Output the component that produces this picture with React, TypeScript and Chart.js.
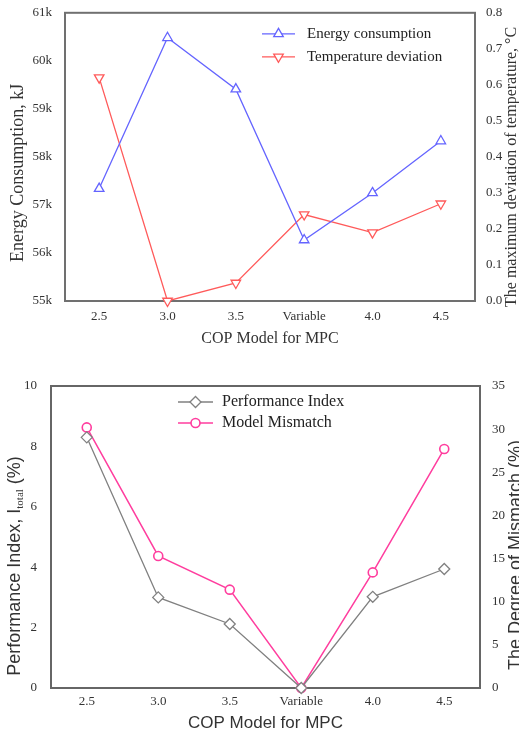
import { useEffect, useRef } from "react";
import { Chart, registerables } from "chart.js";
import { drawPoint } from "chart.js/helpers";

Chart.register(...registerables);

// ---------- data ----------
const categories = ["2.5", "3.0", "3.5", "Variable", "4.0", "4.5"];

const energyLabel = "Energy consumption";
const energyConsumption = [57340, 60480, 59410, 56270, 57250, 58330];
const deviationLabel = "Temperature deviation";
const temperatureDeviation = [0.62, 0.0, 0.05, 0.24, 0.19, 0.27];

const performanceLabel = "Performance Index";
const performanceIndex = [8.3, 3.0, 2.12, 0, 3.02, 3.94];
const mismatchLabel = "Model Mismatch";
const modelMismatch = [30.2, 15.3, 11.4, 0, 13.4, 27.7];

const energyRange = [55000, 61000, 1000];
const deviationRange = [0, 0.8, 0.1];
const indexRange = [0, 10, 2];
const mismatchRange = [0, 35, 5];

// ---------- styling ----------
const SERIF = "'Liberation Serif', 'Times New Roman', serif";
const SANS = "'Liberation Sans', Arial, sans-serif";
const W = 519;
const TOP_H = 360;
const BOTTOM_H = 375;

type Seg = { text: string; size: number; family: string; shift?: number };
type TitleSpec = { segs: Seg[]; x: (a: any) => number; y: (a: any) => number; rot: number; color: string };
type LegendSpec = { x0: number; lineLen: number; textGap: number; y0: number; step: number; size: number; family: string };

function drawRich(ctx: CanvasRenderingContext2D, t: TitleSpec, area: any) {
  ctx.save();
  let total = 0;
  const widths = t.segs.map((s) => {
    ctx.font = `${s.size}px ${s.family}`;
    const w = ctx.measureText(s.text).width;
    total += w;
    return w;
  });
  ctx.translate(t.x(area), t.y(area));
  ctx.rotate(t.rot);
  ctx.fillStyle = t.color;
  ctx.textBaseline = "middle";
  ctx.textAlign = "left";
  let x = -total / 2;
  t.segs.forEach((s, i) => {
    ctx.font = `${s.size}px ${s.family}`;
    ctx.fillText(s.text, x, s.shift || 0);
    x += widths[i];
  });
  ctx.restore();
}

function decorPlugin(titles: TitleSpec[], legend: LegendSpec, frameColor: string) {
  return {
    id: "decor",
    beforeDatasetsDraw(chart: any) {
      const { ctx, chartArea: a } = chart;
      ctx.save();
      ctx.strokeStyle = frameColor;
      ctx.lineWidth = 2;
      ctx.strokeRect(a.left, a.top, a.right - a.left, a.bottom - a.top);
      ctx.restore();
    },
    afterDraw(chart: any) {
      const { ctx, chartArea: a } = chart;
      titles.forEach((t) => drawRich(ctx, t, a));
      chart.data.datasets.forEach((ds: any, i: number) => {
        const y = a.top + legend.y0 + i * legend.step;
        const x1 = a.left + legend.x0;
        ctx.save();
        ctx.strokeStyle = ds.borderColor;
        ctx.lineWidth = ds.borderWidth;
        ctx.beginPath();
        ctx.moveTo(x1, y);
        ctx.lineTo(x1 + legend.lineLen, y);
        ctx.stroke();
        ctx.fillStyle = ds.pointBackgroundColor;
        ctx.strokeStyle = ds.pointBorderColor;
        ctx.lineWidth = ds.pointBorderWidth;
        drawPoint(ctx, {
          pointStyle: ds.pointStyle,
          radius: ds.pointRadius,
          rotation: ds.pointRotation || 0,
          borderWidth: ds.pointBorderWidth,
        } as any, x1 + legend.lineLen / 2, y);
        ctx.fillStyle = "#222";
        ctx.font = `${legend.size}px ${legend.family}`;
        ctx.textBaseline = "middle";
        ctx.textAlign = "left";
        ctx.fillText(ds.label, x1 + legend.lineLen + legend.textGap, y);
        ctx.restore();
      });
    },
  };
}

function fixedWidth(w: number) {
  return (s: any) => {
    s.width = w;
  };
}
function fixedHeight(h: number) {
  return (s: any) => {
    s.height = h;
  };
}

function TopChart() {
  const ref = useRef<HTMLCanvasElement>(null);
  useEffect(() => {
    const titles: TitleSpec[] = [
      { segs: [{ text: "COP Model for MPC", size: 16, family: SERIF }], x: (a) => (a.left + a.right) / 2, y: (a) => a.bottom + 38, rot: 0, color: "#333" },
      { segs: [{ text: "Energy Consumption, kJ", size: 18, family: SERIF }], x: (a) => a.left - 47, y: (a) => (a.top + a.bottom) / 2 + 16, rot: -Math.PI / 2, color: "#333" },
      { segs: [{ text: "The maximum deviation of temperature, °C", size: 16, family: SERIF }], x: (a) => a.right + 37, y: (a) => (a.top + a.bottom) / 2 + 10, rot: -Math.PI / 2, color: "#333" },
    ];
    const legend: LegendSpec = { x0: 197, lineLen: 33, textGap: 12, y0: 21, step: 23, size: 15, family: SERIF };
    const chart = new Chart(ref.current!, {
      type: "line",
      data: {
        labels: categories,
        datasets: [
          {
            label: energyLabel,
            data: energyConsumption,
            yAxisID: "yE",
            borderColor: "#6464ff",
            borderWidth: 1.3,
            pointStyle: "triangle",
            pointRadius: 5.5,
            pointBackgroundColor: "#ffffff",
            pointBorderColor: "#6464ff",
            pointBorderWidth: 1.3,
            clip: false,
          } as any,
          {
            label: deviationLabel,
            data: temperatureDeviation,
            yAxisID: "yT",
            borderColor: "#ff5a5a",
            borderWidth: 1.3,
            pointStyle: "triangle",
            pointRotation: 180,
            pointRadius: 5.5,
            pointBackgroundColor: "#ffffff",
            pointBorderColor: "#ff5a5a",
            pointBorderWidth: 1.3,
            clip: false,
          } as any,
        ],
      },
      options: {
        animation: false,
        responsive: false,
        layout: { padding: { top: 12, left: 0, right: 0, bottom: 0 } },
        plugins: { legend: { display: false }, tooltip: { enabled: false } },
        scales: {
          x: {
            offset: true,
            afterFit: fixedHeight(59),
            grid: { display: false },
            border: { display: false },
            ticks: { padding: 0, color: "#333", font: { family: SERIF, size: 13 } },
          },
          yE: {
            position: "left",
            min: energyRange[0],
            max: energyRange[1],
            afterFit: fixedWidth(65),
            grid: { display: false },
            border: { display: false },
            ticks: {
              stepSize: energyRange[2],
              padding: 5,
              color: "#333",
              font: { family: SERIF, size: 13 },
              callback: (v: any) => `${Math.round(Number(v) / 1000)}k`,
            },
          },
          yT: {
            position: "right",
            min: deviationRange[0],
            max: deviationRange[1],
            afterFit: fixedWidth(44),
            grid: { display: false },
            border: { display: false },
            ticks: {
              stepSize: deviationRange[2],
              padding: 3,
              color: "#333",
              font: { family: SERIF, size: 13 },
              callback: (v: any) => Number(v).toFixed(1),
            },
          },
        },
      } as any,
      plugins: [decorPlugin(titles, legend, "#707070")],
    });
    return () => chart.destroy();
  }, []);
  return <canvas ref={ref} width={W} height={TOP_H} style={{ display: "block", width: W, height: TOP_H }} />;
}

function BottomChart() {
  const ref = useRef<HTMLCanvasElement>(null);
  useEffect(() => {
    const titles: TitleSpec[] = [
      { segs: [{ text: "COP Model for MPC", size: 17, family: SANS }], x: (a) => (a.left + a.right) / 2, y: (a) => a.bottom + 35, rot: 0, color: "#333" },
      {
        segs: [
          { text: "Performance Index, I", size: 18, family: SANS },
          { text: "total", size: 11, family: SERIF, shift: 5 },
          { text: " (%)", size: 18, family: SANS },
        ],
        x: (a) => a.left - 36,
        y: (a) => (a.top + a.bottom) / 2 + 29,
        rot: -Math.PI / 2,
        color: "#333",
      },
      { segs: [{ text: "The Degree of Mismatch (%)", size: 18, family: SANS }], x: (a) => a.right + 36, y: (a) => (a.top + a.bottom) / 2 + 18, rot: -Math.PI / 2, color: "#333" },
    ];
    const legend: LegendSpec = { x0: 127, lineLen: 35, textGap: 9, y0: 16, step: 21, size: 16, family: SERIF };
    const chart = new Chart(ref.current!, {
      type: "line",
      data: {
        labels: categories,
        datasets: [
          {
            label: performanceLabel,
            data: performanceIndex,
            yAxisID: "yP",
            borderColor: "#808080",
            borderWidth: 1.3,
            pointStyle: "rectRot",
            pointRadius: 5.5,
            pointBackgroundColor: "#ffffff",
            pointBorderColor: "#808080",
            pointBorderWidth: 1.3,
            clip: false,
          } as any,
          {
            label: mismatchLabel,
            data: modelMismatch,
            yAxisID: "yM",
            borderColor: "#ff3d9e",
            borderWidth: 1.5,
            pointStyle: "circle",
            pointRadius: 4.5,
            pointBackgroundColor: "#ffffff",
            pointBorderColor: "#ff3d9e",
            pointBorderWidth: 1.6,
            clip: false,
          } as any,
        ],
      },
      options: {
        animation: false,
        responsive: false,
        layout: { padding: { top: 26, left: 0, right: 0, bottom: 0 } },
        plugins: { legend: { display: false }, tooltip: { enabled: false } },
        scales: {
          x: {
            offset: true,
            afterFit: fixedHeight(47),
            grid: { display: false },
            border: { display: false },
            ticks: { padding: -2, color: "#333", font: { family: SERIF, size: 13 } },
          },
          yP: {
            position: "left",
            min: indexRange[0],
            max: indexRange[1],
            afterFit: fixedWidth(51),
            grid: { display: false },
            border: { display: false },
            ticks: { stepSize: indexRange[2], padding: 6, color: "#333", font: { family: SERIF, size: 13 } },
          },
          yM: {
            position: "right",
            min: mismatchRange[0],
            max: mismatchRange[1],
            afterFit: fixedWidth(39),
            grid: { display: false },
            border: { display: false },
            ticks: { stepSize: mismatchRange[2], padding: 4, color: "#333", font: { family: SERIF, size: 13 } },
          },
        },
      } as any,
      plugins: [decorPlugin(titles, legend, "#666666")],
    });
    return () => chart.destroy();
  }, []);
  return <canvas ref={ref} width={W} height={BOTTOM_H} style={{ display: "block", width: W, height: BOTTOM_H }} />;
}

export default function App() {
  return (
    <div style={{ position: "absolute", left: 0, top: 0, width: W, height: TOP_H + BOTTOM_H, background: "#fff", overflow: "hidden" }}>
      <TopChart />
      <BottomChart />
    </div>
  );
}
